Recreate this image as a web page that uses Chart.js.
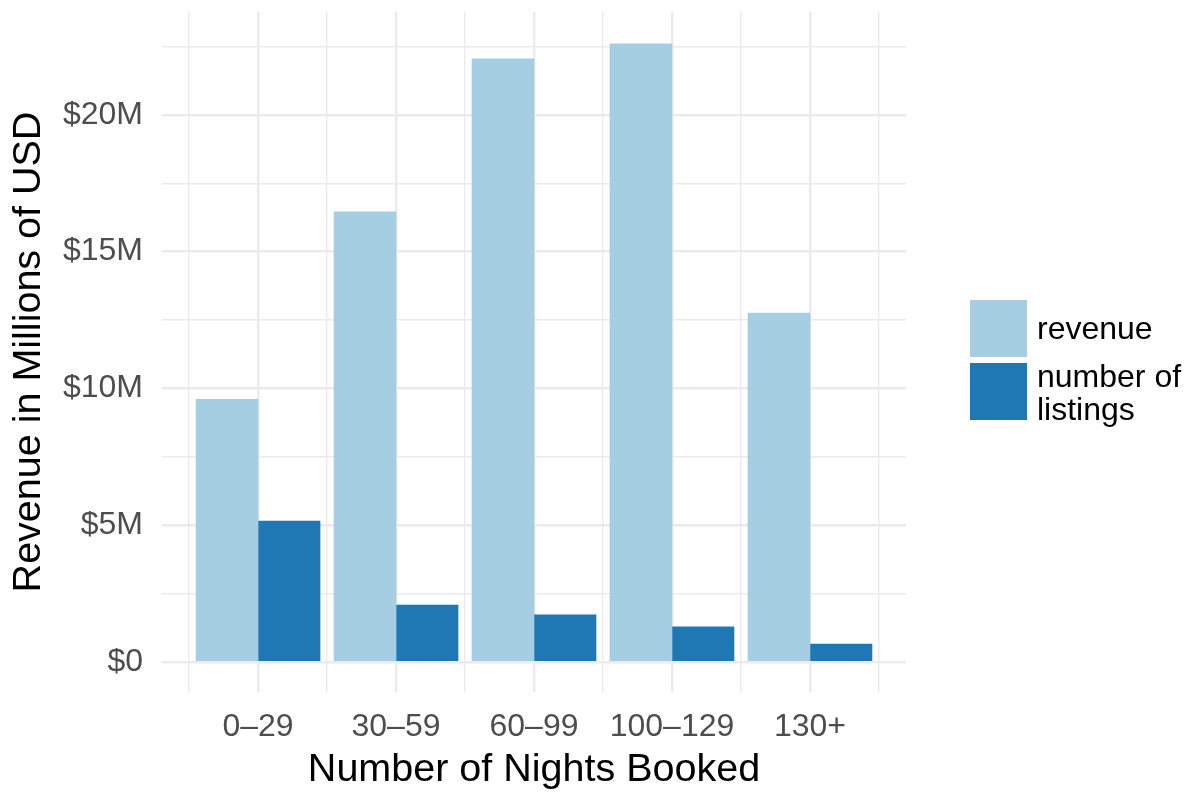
<!DOCTYPE html>
<html>
<head>
<meta charset="utf-8">
<script src="https://cdn.jsdelivr.net/npm/chart.js@4/dist/chart.umd.min.js"></script>
<style>
  html, body { margin: 0; padding: 0; background: #ffffff; }
  #wrap { position: relative; width: 1192px; height: 794px; }
  #chart { position: absolute; left: 0; top: 0; }
  .key { position: absolute; left: 970px; width: 57px; }
  .lbl { position: absolute; left: 1037px; font-family: "Liberation Sans", Arial, Helvetica, sans-serif;
         font-size: 32px; line-height: 33px; color: #000; white-space: nowrap; }
</style>
</head>
<body>
<div id="wrap">
  <canvas id="chart" width="1192" height="794"></canvas>
  <div class="key" id="key0" style="top:300px;height:57px;"></div>
  <div class="lbl" id="lbl0" style="top:312px;"></div>
  <div class="key" id="key1" style="top:363px;height:57px;"></div>
  <div class="lbl" id="lbl1" style="top:360px;"></div>
</div>
<script>
// Booking buckets (nights booked per year)
const categories = ['0\u201329', '30\u201359', '60\u201399', '100\u2013129', '130+'];
// Values in millions
const revenue = [9.6, 16.45, 22.05, 22.6, 12.75];
const listings = [5.15, 2.08, 1.72, 1.28, 0.65];
const seriesNames = ['revenue', 'number of\nlistings'];
const seriesColors = ['#a6cee3', '#1f78b4'];
// Y tick labels at every 5M
const yTickLabels = { 0: '$0', 5: '$5M', 10: '$10M', 15: '$15M', 20: '$20M' };

const FONT = '"Liberation Sans", Arial, Helvetica, sans-serif';
const GRID = '#ede9ed';

const toPoints = arr => arr.map((v, i) => ({ x: i + 1, y: v }));
const near = (a, b) => Math.abs(a - b) < 1e-6;

new Chart(document.getElementById('chart'), {
  type: 'bar',
  data: {
    datasets: [
      { label: seriesNames[0], data: toPoints(revenue), backgroundColor: seriesColors[0] },
      { label: seriesNames[1], data: toPoints(listings), backgroundColor: seriesColors[1] }
    ]
  },
  options: {
    responsive: false,
    animation: false,
    layout: { padding: { left: 0, right: 286, top: 12, bottom: 0 } },
    datasets: { bar: { barThickness: 62, borderWidth: 0 } },
    plugins: { legend: { display: false }, tooltip: { enabled: false } },
    scales: {
      x: {
        type: 'linear',
        min: 0.304, max: 5.696,
        offset: false,
        border: { display: false },
        grid: {
          offset: false,
          drawTicks: false,
          color: GRID,
          lineWidth: c => (c.tick && near(c.tick.value, Math.round(c.tick.value))) ? 2.4 : 1.4
        },
        ticks: {
          stepSize: 0.5,
          includeBounds: false,
          maxTicksLimit: 100,
          autoSkip: false,
          maxRotation: 0,
          padding: 16,
          color: '#4d4d4d',
          font: { family: FONT, size: 32 },
          callback: v => near(v, Math.round(v)) ? (categories[Math.round(v) - 1] || '') : ''
        },
        title: {
          display: true,
          text: 'Number of Nights Booked',
          color: '#000',
          font: { family: FONT, size: 39.5, lineHeight: 1.2 },
          padding: { top: 0, bottom: 0 }
        },
        afterFit: s => { s.height = 102; s.paddingLeft = 0; s.paddingRight = 0; }
      },
      y: {
        min: -1.1, max: 23.76,
        border: { display: false },
        grid: {
          drawTicks: false,
          color: GRID,
          lineWidth: c => (c.tick && near(c.tick.value / 5, Math.round(c.tick.value / 5))) ? 2.4 : 1.4
        },
        ticks: {
          stepSize: 2.5,
          includeBounds: false,
          maxTicksLimit: 100,
          autoSkip: false,
          padding: 19,
          color: '#4d4d4d',
          font: { family: FONT, size: 32 },
          callback: v => {
            const r = Math.round(v);
            return (near(v, r) && yTickLabels[r] !== undefined) ? yTickLabels[r] : '';
          }
        },
        title: {
          display: true,
          text: 'Revenue in Millions of USD',
          color: '#000',
          font: { family: FONT, size: 39.5, lineHeight: 1.2 },
          padding: { top: 5, bottom: 0 }
        },
        afterFit: s => { s.width = 162; s.paddingTop = 0; s.paddingBottom = 0; }
      }
    }
  }
});

// Legend (keys and labels take their colours and names from the series arrays)
seriesColors.forEach((c, i) => {
  document.getElementById('key' + i).style.background = c;
  const l = document.getElementById('lbl' + i);
  seriesNames[i].split('\n').forEach((line, j) => {
    if (j) l.appendChild(document.createElement('br'));
    l.appendChild(document.createTextNode(line));
  });
});
</script>
</body>
</html>
